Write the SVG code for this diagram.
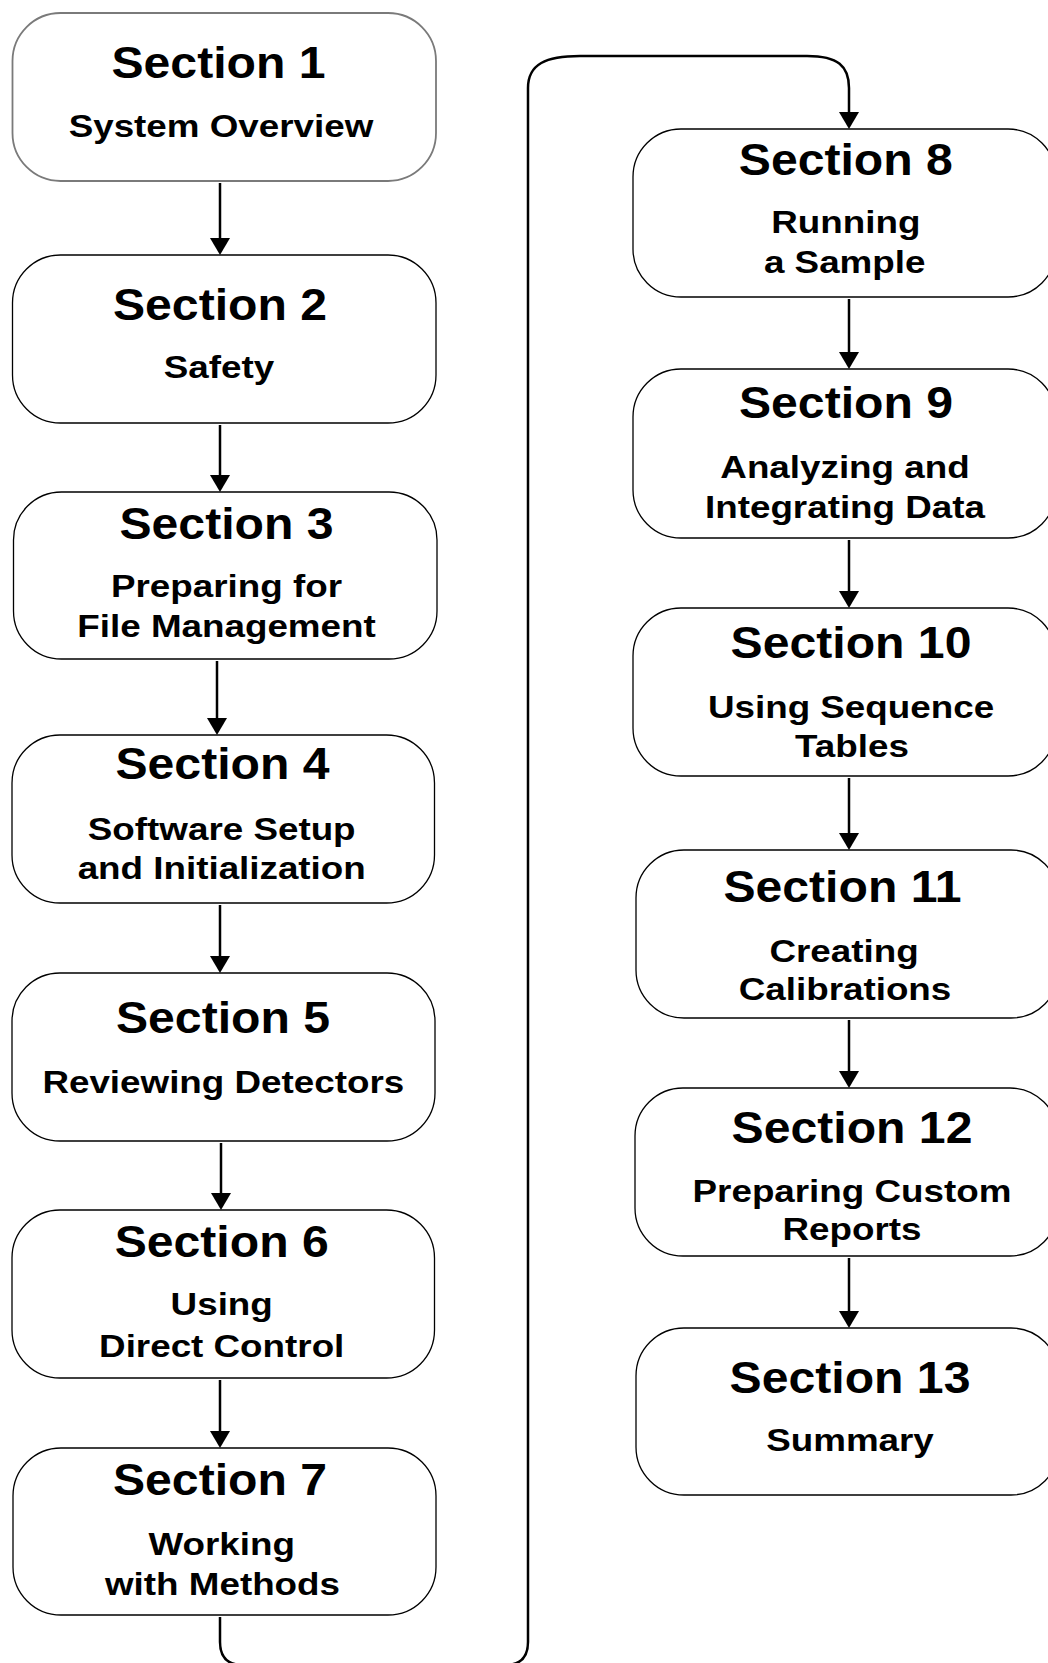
<svg xmlns="http://www.w3.org/2000/svg" width="1048" height="1663" viewBox="0 0 1048 1663">
  <defs>
    <style>
      .box { fill: #ffffff; stroke: #000000; stroke-width: 1.3; }
      .box.first { stroke: #7a7a7a; stroke-width: 1.8; }
      .h { font-family: "Liberation Sans", Arial, Helvetica, sans-serif; font-weight: bold; font-size: 45px; text-anchor: middle; fill: #000000; }
      .s { font-size: 32px; }
      .conn { fill: none; stroke: #000000; stroke-width: 2.5; marker-end: url(#arrow); }
    </style>
    <marker id="arrow" markerUnits="userSpaceOnUse" markerWidth="17" markerHeight="20" viewBox="0 -10 17 20" refX="0" refY="0" orient="auto" overflow="visible">
      <path d="M0,-10 L17,0 L0,10 Z" fill="#000000"/>
    </marker>
  </defs>
  <rect width="1048" height="1663" fill="#ffffff"/>

  <!-- connectors -->
  <g id="connectors">
    <path class="conn" d="M220,183 L220,238"/>
    <path class="conn" d="M220,425 L220,475"/>
    <path class="conn" d="M217,661 L217,718"/>
    <path class="conn" d="M220,905 L220,956"/>
    <path class="conn" d="M221,1143 L221,1193"/>
    <path class="conn" d="M220,1380 L220,1431"/>
    <!-- wrap-around from section 7 to section 8 -->
    <path class="conn" d="M220,1617 L220,1642 Q220,1665 243,1665 L505,1665 Q528,1665 528,1642 L528,88 C528,64 546,56 580,56 L807,56 C838,56 849,66 849,88 L849,112"/>
    <path class="conn" d="M849,299 L849,352"/>
    <path class="conn" d="M849,540 L849,591"/>
    <path class="conn" d="M849,778 L849,833"/>
    <path class="conn" d="M849,1020 L849,1071"/>
    <path class="conn" d="M849,1258 L849,1311"/>
  </g>

  <!-- left column -->
  <g id="section-1">
    <rect class="box first" x="12.5" y="13" width="423.5" height="168" rx="48" ry="48"/>
    <text class="h" transform="translate(218.5,78) scale(1.07,1)">Section 1</text>
    <text class="h s" transform="translate(221,136.5) scale(1.15,1)">System Overview</text>
  </g>
  <g id="section-2">
    <rect class="box" x="12.5" y="255" width="423.5" height="168" rx="48" ry="48"/>
    <text class="h" transform="translate(220,320) scale(1.07,1)">Section 2</text>
    <text class="h s" transform="translate(219,378) scale(1.15,1)">Safety</text>
  </g>
  <g id="section-3">
    <rect class="box" x="13.5" y="492" width="423.5" height="167" rx="48" ry="48"/>
    <text class="h" transform="translate(226.5,539) scale(1.07,1)">Section 3</text>
    <text class="h s" transform="translate(226.5,597) scale(1.15,1)">Preparing for</text>
    <text class="h s" transform="translate(226.5,637) scale(1.15,1)">File Management</text>
  </g>
  <g id="section-4">
    <rect class="box" x="12" y="735" width="422.5" height="168" rx="48" ry="48"/>
    <text class="h" transform="translate(222.5,779) scale(1.07,1)">Section 4</text>
    <text class="h s" transform="translate(221.7,840) scale(1.15,1)">Software Setup</text>
    <text class="h s" transform="translate(221.7,879) scale(1.15,1)">and Initialization</text>
  </g>
  <g id="section-5">
    <rect class="box" x="12" y="973" width="423" height="168" rx="48" ry="48"/>
    <text class="h" transform="translate(223,1033) scale(1.07,1)">Section 5</text>
    <text class="h s" transform="translate(223.3,1093) scale(1.15,1)">Reviewing Detectors</text>
  </g>
  <g id="section-6">
    <rect class="box" x="12" y="1210" width="422.5" height="168" rx="48" ry="48"/>
    <text class="h" transform="translate(221.7,1257) scale(1.07,1)">Section 6</text>
    <text class="h s" transform="translate(221.7,1315) scale(1.15,1)">Using</text>
    <text class="h s" transform="translate(221.7,1357) scale(1.15,1)">Direct Control</text>
  </g>
  <g id="section-7">
    <rect class="box" x="13" y="1448" width="423" height="167" rx="48" ry="48"/>
    <text class="h" transform="translate(220,1495) scale(1.07,1)">Section 7</text>
    <text class="h s" transform="translate(221.7,1555) scale(1.15,1)">Working</text>
    <text class="h s" transform="translate(222.5,1595) scale(1.15,1)">with Methods</text>
  </g>

  <!-- right column -->
  <g id="section-8">
    <rect class="box" x="633" y="129" width="423" height="168" rx="48" ry="48"/>
    <text class="h" transform="translate(845.8,175) scale(1.07,1)">Section 8</text>
    <text class="h s" transform="translate(845.8,233) scale(1.15,1)">Running</text>
    <text class="h s" transform="translate(844.7,273) scale(1.15,1)">a Sample</text>
  </g>
  <g id="section-9">
    <rect class="box" x="633" y="369" width="423" height="169" rx="48" ry="48"/>
    <text class="h" transform="translate(846,418) scale(1.07,1)">Section 9</text>
    <text class="h s" transform="translate(845,478) scale(1.15,1)">Analyzing and</text>
    <text class="h s" transform="translate(845,518) scale(1.15,1)">Integrating Data</text>
  </g>
  <g id="section-10">
    <rect class="box" x="633" y="608" width="423" height="168" rx="48" ry="48"/>
    <text class="h" transform="translate(851,658) scale(1.07,1)">Section 10</text>
    <text class="h s" transform="translate(851,718) scale(1.15,1)">Using Sequence</text>
    <text class="h s" transform="translate(852,757) scale(1.15,1)">Tables</text>
  </g>
  <g id="section-11">
    <rect class="box" x="636" y="850" width="423" height="168" rx="48" ry="48"/>
    <text class="h" transform="translate(842.5,902) scale(1.07,1)">Section 11</text>
    <text class="h s" transform="translate(844,962) scale(1.15,1)">Creating</text>
    <text class="h s" transform="translate(845,1000) scale(1.15,1)">Calibrations</text>
  </g>
  <g id="section-12">
    <rect class="box" x="635" y="1088" width="423" height="168" rx="48" ry="48"/>
    <text class="h" transform="translate(852,1143) scale(1.07,1)">Section 12</text>
    <text class="h s" transform="translate(852,1202) scale(1.15,1)">Preparing Custom</text>
    <text class="h s" transform="translate(852,1240) scale(1.15,1)">Reports</text>
  </g>
  <g id="section-13">
    <rect class="box" x="636" y="1328" width="423" height="167" rx="48" ry="48"/>
    <text class="h" transform="translate(850,1393) scale(1.07,1)">Section 13</text>
    <text class="h s" transform="translate(850,1451) scale(1.15,1)">Summary</text>
  </g>
</svg>
